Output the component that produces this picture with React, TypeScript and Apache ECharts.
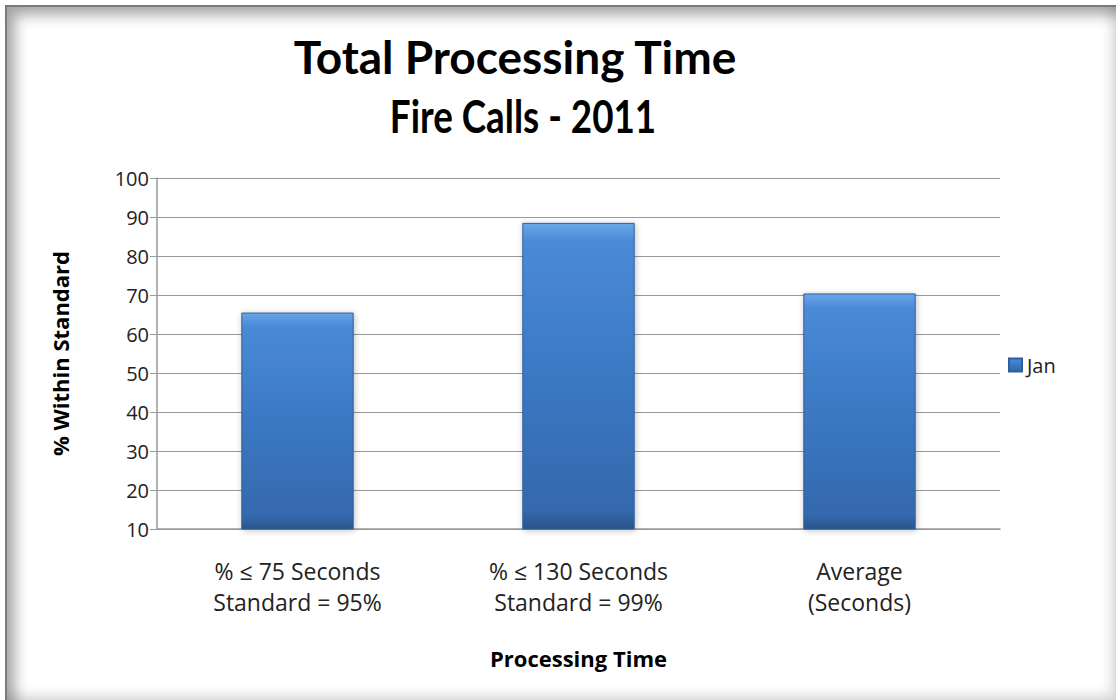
import React, { useEffect, useRef } from "react";
import * as echarts from "echarts";

const categories = ["% ≤ 75 Seconds\nStandard = 95%", "% ≤ 130 Seconds\nStandard = 99%", "Average\n(Seconds)"];
const janValues = [65.5, 88.5, 70.4];
const seriesName = "Jan";
const titleLines = ["Total Processing Time", "Fire Calls - 2011"];
const yAxisName = "% Within Standard";
const xAxisName = "Processing Time";

const FONT = "'Open Sans', sans-serif";
const TITLE_FONT = "Lato, 'Open Sans', sans-serif";

export default function App() {
  const ref = useRef<HTMLDivElement>(null);
  useEffect(() => {
    if (!ref.current) return;
    const chart = echarts.init(ref.current, null, { renderer: "svg" });
    const barColor = new echarts.graphic.LinearGradient(0, 0, 0, 1, [
      { offset: 0, color: "#6aa6e8" },
      { offset: 0.06, color: "#4a8ad6" },
      { offset: 0.5, color: "#3b78c4" },
      { offset: 0.94, color: "#3469ad" },
      { offset: 1, color: "#2a5488" },
    ]);
    const titleStyle = { fontFamily: TITLE_FONT, fontSize: 46, fontWeight: "bold", color: "#000" };
    chart.setOption({
      animation: false,
      textStyle: { fontFamily: FONT },
      title: [
        { text: titleLines[0], left: 515, textAlign: "center", top: 33, padding: 0, textStyle: titleStyle },
      ],
      graphic: [
        {
          type: "text",
          x: 523,
          y: 92,
          scaleX: 0.8,
          style: {
            text: titleLines[1],
            fontFamily: TITLE_FONT,
            fontSize: 46,
            fontWeight: "bold",
            fill: "#000",
            textAlign: "center",
            textVerticalAlign: "top",
          },
        },
      ],
      legend: {
        left: 1003,
        top: 350,
        orient: "vertical",
        itemWidth: 13,
        itemHeight: 13,
        itemGap: 6,
        icon: "rect",
        textStyle: { fontFamily: FONT, fontSize: 20, color: "#222" },
        data: [seriesName],
      },
      grid: { left: 157, right: 116, top: 178, bottom: 171, containLabel: false },
      xAxis: {
        type: "category",
        data: categories,
        name: xAxisName,
        nameLocation: "middle",
        nameGap: 118,
        nameTextStyle: { fontFamily: FONT, fontSize: 22, fontWeight: "bold", color: "#000" },
        axisLine: { lineStyle: { color: "#9a9a9a", width: 1.5 } },
        axisTick: { show: false },
        axisLabel: { fontFamily: FONT, fontSize: 23, color: "#222", margin: 26, lineHeight: 31 },
      },
      yAxis: {
        type: "value",
        min: 10,
        max: 100,
        interval: 10,
        name: yAxisName,
        nameLocation: "middle",
        nameGap: 86,
        nameTextStyle: { fontFamily: FONT, fontSize: 22, fontWeight: "bold", color: "#000" },
        axisLine: { show: true, lineStyle: { color: "#9a9a9a", width: 1.5 } },
        axisTick: { show: true, length: 7, lineStyle: { color: "#9a9a9a" } },
        axisLabel: { fontFamily: FONT, fontSize: 20, color: "#222", margin: 8 },
        splitLine: { lineStyle: { color: "#9a9a9a", width: 1 } },
      },
      series: [
        {
          name: seriesName,
          type: "bar",
          data: janValues,
          barWidth: "40%",
          itemStyle: {
            color: barColor,
            borderColor: "#2f5f9c",
            borderWidth: 1,
            shadowColor: "rgba(0,0,0,0.25)",
            shadowBlur: 6,
            shadowOffsetX: 1,
            shadowOffsetY: 1,
          },
        },
      ],
    });
    return () => chart.dispose();
  }, []);
  return (
    <div
      style={{
        position: "fixed",
        left: 0,
        top: 0,
        width: 1116,
        height: 700,
        background: "#fff",
      }}
    >
      <div
        style={{
          position: "absolute",
          left: 5,
          top: 5,
          width: 1111,
          height: 695,
          boxSizing: "border-box",
          borderLeft: "2px solid #7a7a7a",
          borderTop: "2px solid #7a7a7a",
          boxShadow: "inset 8px 8px 14px rgba(0,0,0,0.35), inset -6px -6px 12px rgba(0,0,0,0.12)",
        }}
      />
      <div ref={ref} style={{ position: "absolute", left: 0, top: 0, width: 1116, height: 700 }} />
    </div>
  );
}
